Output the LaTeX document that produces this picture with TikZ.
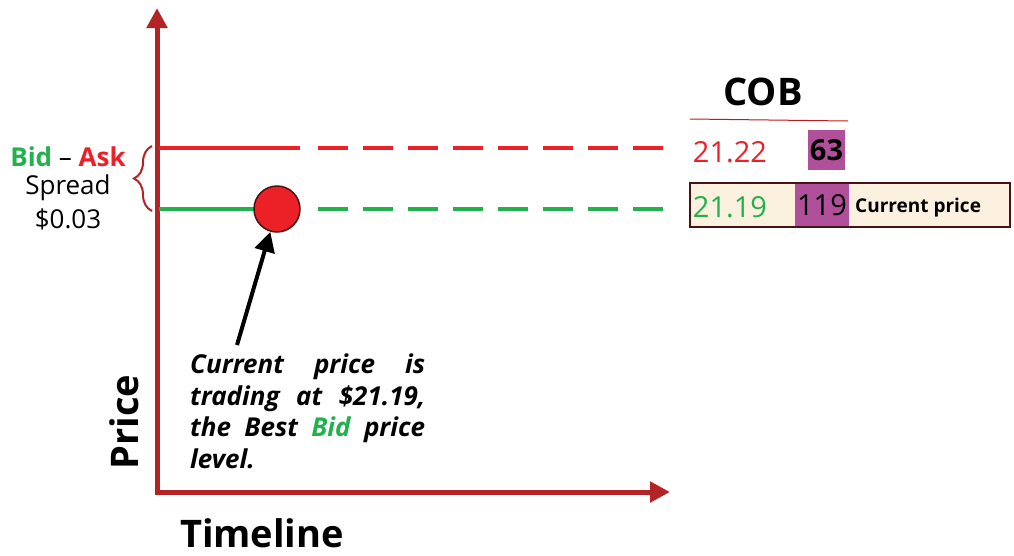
\documentclass[tikz,border=0pt]{standalone}
\usepackage{fontspec}
\setmainfont{Open Sans}
\usepackage{tikz}
\usetikzlibrary{arrows.meta, positioning, calc, decorations.pathreplacing}
\definecolor{axisred}{RGB}{180,36,38}
\definecolor{askred}{RGB}{236,32,39}
\definecolor{bidgreen}{RGB}{34,177,76}
\definecolor{obpurple}{RGB}{176,80,154}
\definecolor{cream}{RGB}{251,241,222}
\definecolor{darkbrown}{RGB}{70,20,20}
\tikzset{axis/.style={line width=5pt,axisred,-{Triangle[length=20pt,width=20pt]}},
         level/.style={line width=4pt},
         leveldash/.style={line width=4pt,dash pattern=on 30pt off 15pt},
         dot/.style={circle,draw=darkbrown,line width=1.5pt,fill=askred,minimum size=46pt,inner sep=0pt},
         pointer/.style={line width=4pt,black,-{Triangle[length=20pt,width=20pt]}},
         label/.style={inner sep=0pt,font=\fontsize{26}{30}\selectfont},
         bigbold/.style={inner sep=0pt,font=\fontsize{38}{44}\selectfont\bfseries},
         qty/.style={fill=obpurple,inner sep=0pt,font=\fontsize{29}{32}\selectfont},
         cpbox/.style={draw=darkbrown,line width=1.5pt,fill=cream,minimum width=320pt,minimum height=44pt,inner sep=0pt},
         note/.style={inner sep=0pt,text width=235pt,align=left,font=\fontsize{26}{31.5}\selectfont\bfseries\itshape}}

\begin{document}
\begin{tikzpicture}[x=1pt,y=-1pt]
    \useasboundingbox (0,0) rectangle (1014,555);
    % Axes
    \coordinate (origin) at (157,492);
    \coordinate (ytop) at (157,8);
    \coordinate (xend) at (670,492);
    \draw[axis] ([yshift=-2.5pt]origin) -- (ytop);
    \draw[axis] ([xshift=-2.5pt]origin) -- (xend);
    % Price levels
    \coordinate (askstart) at (159,148);
    \coordinate (askmid) at (300,148);
    \coordinate (askdash) at (318,148);
    \coordinate (askend) at (665,148);
    \coordinate (bidstart) at (159,209);
    \coordinate (bidmid) at (300,209);
    \coordinate (biddash) at (318,209);
    \coordinate (bidend) at (665,209);
    \draw[level,askred] (askstart) -- (askmid);
    \draw[leveldash,askred] (askdash) -- (askend);
    \draw[level,bidgreen] (bidstart) -- (bidmid);
    \draw[leveldash,bidgreen] (biddash) -- (bidend);
    % Current price marker
    \node[dot] (dot) at (277,209) {};
    % Spread brace
    \coordinate (bracelow) at (152,211);
    \coordinate (bracehigh) at (152,146);
    \draw[axisred,line width=2pt,decorate,decoration={brace,amplitude=18pt,aspect=0.5}] (bracelow) -- (bracehigh);
    \node[label] (bidask) at (68,157) {\textbf{\textcolor{bidgreen}{Bid}} – \textbf{\textcolor{askred}{Ask}}};
    \node[label] (spread) at (68,188) {Spread};
    \node[label] (spreadval) at (68,219) {\$0.03};
    % Axis titles
    \node[bigbold,rotate=90] (price) at (124,422) {Price};
    \node[bigbold] (timeline) at (262,533) {Timeline};
    % Note
    \node[note,anchor=north west] (note) at (190,354)
        {Current\hfill price\hfill is\\
         trading\hfill at\hfill \$21.19,\\
         the\hfill Best\hfill \textcolor{bidgreen}{Bid}\hfill price\\
         level.};
    \draw[pointer] (237,345) -- (dot);
    % Order book
    \node[bigbold] (cob) at (763,92) {COB};
    \coordinate (cobleft) at (690,119);
    \coordinate (cobright) at (848,121);
    \draw[askred!80!black,line width=1pt] (cobleft) -- (cobright);
    \node[label,askred,font=\fontsize{29}{32}\selectfont] (askprice) at (730,152) {21.22};
    \node[qty,minimum width=37pt,minimum height=40pt,font=\fontsize{29}{32}\selectfont\bfseries] (askqty) at (826.5,150) {63};
    \node[cpbox] (cpbox) at (850,205) {};
    \node[label,bidgreen,font=\fontsize{29}{32}\selectfont] (bidprice) at (730,207) {21.19};
    \node[qty,minimum width=54pt,minimum height=42pt] (bidqty) at (822,205) {119};
    \node[inner sep=0pt,font=\fontsize{19}{22}\selectfont\bfseries,anchor=west] (cplabel) at (855,208) {Current price};
\end{tikzpicture}
\end{document}
